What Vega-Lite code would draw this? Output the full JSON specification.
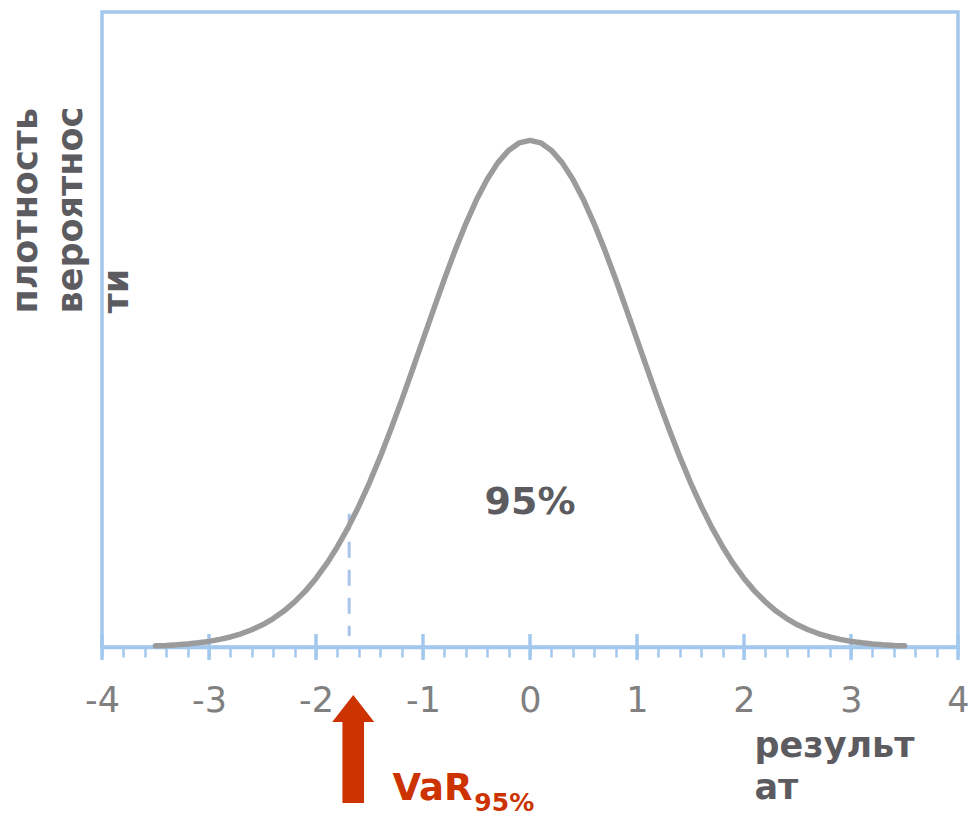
{
  "$schema": "https://vega.github.io/schema/vega-lite/v6.json",
  "autosize": {"type": "none"},
  "width": 856,
  "height": 635,
  "padding": {"left": 102, "top": 12, "right": 12, "bottom": 169},
  "background": "white",
  "config": {
    "view": {"stroke": "#a3c8ee", "strokeWidth": 3.5},
    "axis": {"grid": false}
  },
  "datasets": {
    "curve": [
      {"x": -3.5, "y": 0.0009}, {"x": -3.4, "y": 0.0012}, {"x": -3.3, "y": 0.0017}, {"x": -3.2, "y": 0.0024},
      {"x": -3.1, "y": 0.0033}, {"x": -3.0, "y": 0.0044}, {"x": -2.9, "y": 0.0060}, {"x": -2.8, "y": 0.0079},
      {"x": -2.7, "y": 0.0104}, {"x": -2.6, "y": 0.0136}, {"x": -2.5, "y": 0.0175}, {"x": -2.4, "y": 0.0224},
      {"x": -2.3, "y": 0.0283}, {"x": -2.2, "y": 0.0355}, {"x": -2.1, "y": 0.0440}, {"x": -2.0, "y": 0.0540},
      {"x": -1.9, "y": 0.0656}, {"x": -1.8, "y": 0.0790}, {"x": -1.7, "y": 0.0940}, {"x": -1.6, "y": 0.1109},
      {"x": -1.5, "y": 0.1295}, {"x": -1.4, "y": 0.1497}, {"x": -1.3, "y": 0.1714}, {"x": -1.2, "y": 0.1942},
      {"x": -1.1, "y": 0.2179}, {"x": -1.0, "y": 0.2420}, {"x": -0.9, "y": 0.2661}, {"x": -0.8, "y": 0.2897},
      {"x": -0.7, "y": 0.3123}, {"x": -0.6, "y": 0.3332}, {"x": -0.5, "y": 0.3521}, {"x": -0.4, "y": 0.3683},
      {"x": -0.3, "y": 0.3814}, {"x": -0.2, "y": 0.3910}, {"x": -0.1, "y": 0.3970}, {"x": 0.0, "y": 0.3989},
      {"x": 0.1, "y": 0.3970}, {"x": 0.2, "y": 0.3910}, {"x": 0.3, "y": 0.3814}, {"x": 0.4, "y": 0.3683},
      {"x": 0.5, "y": 0.3521}, {"x": 0.6, "y": 0.3332}, {"x": 0.7, "y": 0.3123}, {"x": 0.8, "y": 0.2897},
      {"x": 0.9, "y": 0.2661}, {"x": 1.0, "y": 0.2420}, {"x": 1.1, "y": 0.2179}, {"x": 1.2, "y": 0.1942},
      {"x": 1.3, "y": 0.1714}, {"x": 1.4, "y": 0.1497}, {"x": 1.5, "y": 0.1295}, {"x": 1.6, "y": 0.1109},
      {"x": 1.7, "y": 0.0940}, {"x": 1.8, "y": 0.0790}, {"x": 1.9, "y": 0.0656}, {"x": 2.0, "y": 0.0540},
      {"x": 2.1, "y": 0.0440}, {"x": 2.2, "y": 0.0355}, {"x": 2.3, "y": 0.0283}, {"x": 2.4, "y": 0.0224},
      {"x": 2.5, "y": 0.0175}, {"x": 2.6, "y": 0.0136}, {"x": 2.7, "y": 0.0104}, {"x": 2.8, "y": 0.0079},
      {"x": 2.9, "y": 0.0060}, {"x": 3.0, "y": 0.0044}, {"x": 3.1, "y": 0.0033}, {"x": 3.2, "y": 0.0024},
      {"x": 3.3, "y": 0.0017}, {"x": 3.4, "y": 0.0012}, {"x": 3.5, "y": 0.0009}
    ],
    "varLine": [{"x": -1.69, "y": 0.105, "y2": 0.0087}],
    "majorTicks": [
      {"x": -4, "y": -0.0102, "y2": 0.0102}, {"x": -3, "y": -0.0102, "y2": 0.0102},
      {"x": -2, "y": -0.0102, "y2": 0.0102}, {"x": -1, "y": -0.0102, "y2": 0.0102},
      {"x": 0, "y": -0.0102, "y2": 0.0102}, {"x": 1, "y": -0.0102, "y2": 0.0102},
      {"x": 2, "y": -0.0102, "y2": 0.0102}, {"x": 3, "y": -0.0102, "y2": 0.0102},
      {"x": 4, "y": -0.0102, "y2": 0.0102}
    ],
    "arrow": [{"x": -1.652, "y": -0.0803}],
    "centerLabel": [{"x": 0, "y": 0.105, "text": "95%"}],
    "varLabel": [{"x": -1.285, "y": -0.1205, "text": "VaR"}],
    "varSub": [{"x": -0.52, "y": -0.1288, "text": "95%"}]
  },
  "encoding": {
    "x": {
      "field": "x",
      "type": "quantitative",
      "scale": {"domain": [-4, 4], "nice": false, "zero": false},
      "axis": {
        "values": [-4, -3.8, -3.6, -3.4, -3.2, -3, -2.8, -2.6, -2.4, -2.2, -2, -1.8, -1.6, -1.4, -1.2, -1, -0.8, -0.6, -0.4, -0.2, 0, 0.2, 0.4, 0.6, 0.8, 1, 1.2, 1.4, 1.6, 1.8, 2, 2.2, 2.4, 2.6, 2.8, 3, 3.2, 3.4, 3.6, 3.8, 4],
        "labelExpr": "abs(datum.value % 1) < 0.000001 ? (datum.value < 0 ? '-' + abs(datum.value) : '' + datum.value) : ''",
        "labelOverlap": false,
        "labelFlush": false,
        "labelFont": "DejaVu Sans",
        "labelFontSize": 35,
        "labelColor": "#808080",
        "labelPadding": 26,
        "domainColor": "#a3c8ee",
        "domainWidth": 3.5,
        "tickColor": "#a3c8ee",
        "tickWidth": 2.5,
        "tickSize": 10,
        "title": ["результ", "ат"],
        "titleFont": "DejaVu Sans",
        "titleFontSize": 35,
        "titleFontWeight": "bold",
        "titleColor": "#5b5b60",
        "titleAlign": "left",
        "titleBaseline": "alphabetic",
        "titleX": 652,
        "titleY": 109,
        "titleLineHeight": 42
      }
    },
    "y": {
      "field": "y",
      "type": "quantitative",
      "scale": {"domain": [0, 0.5], "nice": false, "zero": false},
      "axis": {
        "domain": false,
        "ticks": false,
        "labels": false,
        "title": ["плотность", "вероятнос", "ти"],
        "titleFont": "DejaVu Sans",
        "titleFontSize": 35,
        "titleFontWeight": "bold",
        "titleColor": "#5b5b60",
        "titleAngle": 270,
        "titleAlign": "left",
        "titleBaseline": "alphabetic",
        "titleX": -66,
        "titleY": 301,
        "titleLineHeight": 45.5
      }
    }
  },
  "layer": [
    {
      "data": {"name": "majorTicks"},
      "mark": {"type": "rule", "color": "#a3c8ee", "strokeWidth": 3.5},
      "encoding": {"y2": {"field": "y2"}}
    },
    {
      "data": {"name": "varLine"},
      "mark": {"type": "rule", "color": "#a9c4e8", "strokeWidth": 3, "strokeDash": [16, 12]},
      "encoding": {"y2": {"field": "y2"}}
    },
    {
      "data": {"name": "curve"},
      "mark": {"type": "line", "color": "#9b9b9b", "strokeWidth": 5.5, "strokeJoin": "round", "strokeCap": "round"},
      "encoding": {}
    },
    {
      "data": {"name": "arrow"},
      "mark": {
        "type": "point",
        "filled": true,
        "color": "#cc3300",
        "opacity": 1,
        "size": 11664,
        "shape": "M0,-1 L0.389,-0.5 L0.2,-0.5 L0.2,1 L-0.2,1 L-0.2,-0.5 L-0.389,-0.5 Z"
      },
      "encoding": {}
    },
    {
      "data": {"name": "centerLabel"},
      "mark": {"type": "text", "font": "DejaVu Sans", "fontWeight": "bold", "fontSize": 38, "color": "#5b5b60", "align": "center", "baseline": "alphabetic"},
      "encoding": {"text": {"field": "text"}}
    },
    {
      "data": {"name": "varLabel"},
      "mark": {"type": "text", "font": "DejaVu Sans", "fontWeight": "bold", "fontSize": 37, "color": "#cc3300", "align": "left", "baseline": "alphabetic"},
      "encoding": {"text": {"field": "text"}}
    },
    {
      "data": {"name": "varSub"},
      "mark": {"type": "text", "font": "DejaVu Sans", "fontWeight": "bold", "fontSize": 25, "color": "#cc3300", "align": "left", "baseline": "alphabetic"},
      "encoding": {"text": {"field": "text"}}
    }
  ]
}
